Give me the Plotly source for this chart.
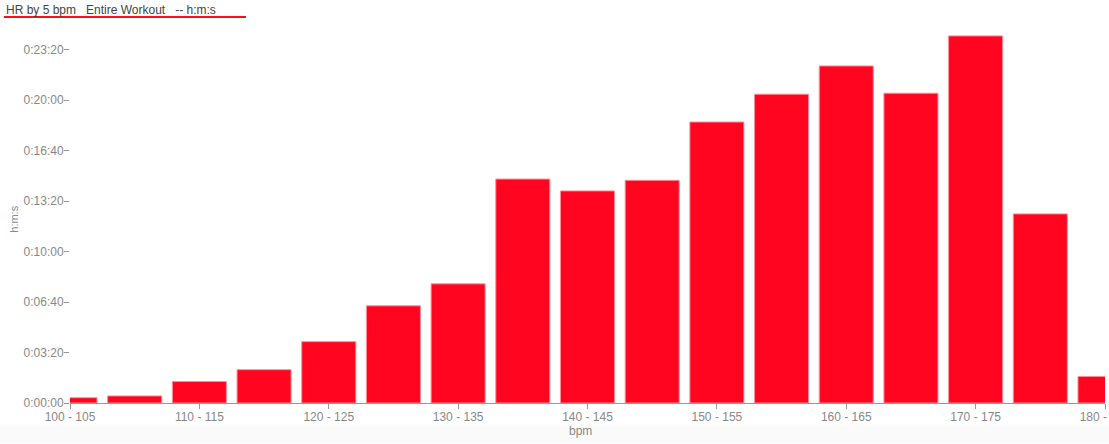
import plotly.graph_objects as go

categories = ["100 - 105", "105 - 110", "110 - 115", "115 - 120", "120 - 125",
              "125 - 130", "130 - 135", "135 - 140", "140 - 145", "145 - 150",
              "150 - 155", "155 - 160", "160 - 165", "165 - 170", "170 - 175",
              "175 - 180", "180 - 185"]
seconds = [21, 28, 85, 132, 243, 385, 472, 887, 840, 882, 1113, 1223, 1335,
           1227, 1454, 749, 105]
y_tick_vals = [0, 200, 400, 600, 800, 1000, 1200, 1400]
y_tick_text = ["0:00:00", "0:03:20", "0:06:40", "0:10:00", "0:13:20",
               "0:16:40", "0:20:00", "0:23:20"]
x_tick_labels = ["100 - 105", "110 - 115", "120 - 125", "130 - 135", "140 - 145",
                 "150 - 155", "160 - 165", "170 - 175", "180 - 185"]
title_text = "HR by 5 bpm\u00a0\u00a0\u00a0Entire Workout\u00a0\u00a0\u00a0-- h:m:s"

W, H = 1109, 444
PLOT_L, PLOT_R, PLOT_T, PLOT_B = 70, 1105, 20, 403.5  # screen pixels
ML = PLOT_L
MR = W - PLOT_R
MT = PLOT_T
MB = H - PLOT_B
PW = W - ML - MR
PH = H - MT - MB


def px_x(p):
    return (p - PLOT_L) / PW


def px_y(p):
    return (PLOT_B - p) / PH


fig = go.Figure(go.Bar(
    x=categories, y=seconds,
    marker=dict(color="#ff0520", line=dict(color="#ff8c96", width=1)),
    hoverinfo="x+y",
))

font_family = "Liberation Sans, Arial, Helvetica, sans-serif"

fig.update_layout(
    width=W, height=H,
    margin=dict(l=ML, r=MR, t=MT, b=MB, autoexpand=False),
    paper_bgcolor="white", plot_bgcolor="white",
    bargap=0.165,
    showlegend=False,
    font=dict(family=font_family, size=12, color="#888888"),
    xaxis=dict(
        type="category", range=[0, 16],
        tickmode="array", tickvals=x_tick_labels, ticktext=x_tick_labels,
        ticks="outside", ticklen=5, tickcolor="#999999", tickwidth=1,
        ticklabelstandoff=-2,
        showline=True, linecolor="#999999", linewidth=1,
        showgrid=False, zeroline=False,
        tickfont=dict(size=12, color="#888888"),
    ),
    yaxis=dict(
        range=[0, PH / 0.2528],
        tickmode="array", tickvals=y_tick_vals, ticktext=y_tick_text,
        ticks="outside", ticklen=5, tickcolor="#999999", tickwidth=1,
        ticklabelstandoff=-2,
        showline=False, showgrid=False, zeroline=False,
        tickfont=dict(size=12, color="#888888"),
    ),
    shapes=[
        dict(type="rect", xref="paper", yref="paper", layer="below",
             x0=px_x(0), x1=px_x(W), y0=px_y(425), y1=px_y(H),
             fillcolor="#fafafa", line=dict(width=0)),
        dict(type="line", xref="paper", yref="paper",
             x0=px_x(4), x1=px_x(246), y0=px_y(17), y1=px_y(17),
             line=dict(color="#ff0a1e", width=2)),
    ],
    annotations=[
        dict(text=title_text, xref="paper", yref="paper",
             x=px_x(4), y=px_y(9.5), xanchor="left", yanchor="middle",
             showarrow=False, font=dict(size=12, color="#444444")),
        dict(text="bpm", xref="paper", yref="paper",
             x=px_x(580), y=px_y(432), xanchor="center", yanchor="middle",
             showarrow=False, font=dict(size=12, color="#888888")),
        dict(text="h:m:s", xref="paper", yref="paper", textangle=-90,
             x=px_x(14), y=px_y(220), xanchor="center", yanchor="middle",
             showarrow=False, font=dict(size=11, color="#888888")),
    ],
)

fig.write_html("out.html",
               config={"displayModeBar": False},
               post_script="document.body.style.margin='0';"
                           "document.body.style.overflow='hidden';")
